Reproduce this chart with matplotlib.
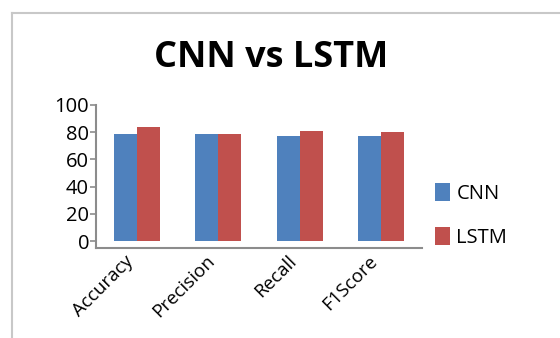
import numpy as np
import matplotlib.pyplot as plt
from matplotlib.lines import Line2D

metrics = ["Accuracy", "Precision", "Recall", "F1Score"]
cnn = [79, 78.5, 77.5, 77.5]
lstm = [84, 79, 81, 80]
yticks = [0, 20, 40, 60, 80, 100]

blue = "#4F81BD"
red = "#C0504D"
axis_grey = "#8c8c8c"

plt.rcParams['font.family'] = ['Open Sans', 'DejaVu Sans']

fig = plt.figure(figsize=(5.6, 3.38), dpi=100)
ax = fig.add_axes([96 / 560, 1 - 248 / 338, 326 / 560, 143 / 338])

x = np.arange(len(metrics))
w = 0.285
ax.bar(x - w / 2, cnn, w, color=blue, label="CNN")
ax.bar(x + w / 2, lstm, w, color=red, label="LSTM")

ax.set_xlim(-0.5, len(metrics) - 0.5)
ax.set_ylim(-5, 100)
ax.set_yticks(yticks)
ax.set_yticklabels([str(t) for t in yticks], fontsize=14.5)
ax.set_xticks(x)
ax.set_xticklabels(metrics, rotation=45, ha="right", fontsize=13.5)
ax.tick_params(axis="x", length=0, pad=3)
ax.tick_params(axis="y", length=4, width=1.2, color=axis_grey, pad=1)

for s in ["top", "right"]:
    ax.spines[s].set_visible(False)
for s in ["left", "bottom"]:
    ax.spines[s].set_color(axis_grey)
    ax.spines[s].set_linewidth(1.5)

fig.text(271 / 560, 1 - 58 / 338, "CNN vs LSTM", ha="center", va="center",
         fontsize=26, fontweight="bold")

ax.legend(loc="center left", bbox_to_anchor=(0.985, 0.225), frameon=False,
          fontsize=14.5, handlelength=0.75, handleheight=1.0,
          handletextpad=0.3, labelspacing=1.15)

# outer chart frame
fig.add_artist(Line2D([12 / 560, 12 / 560], [0, 1 - 13 / 338],
                      transform=fig.transFigure, color="#c8c8c8", lw=1.5))
fig.add_artist(Line2D([12 / 560, 1], [1 - 13 / 338, 1 - 13 / 338],
                      transform=fig.transFigure, color="#c8c8c8", lw=1.5))

fig.savefig("out.png", dpi=100)
